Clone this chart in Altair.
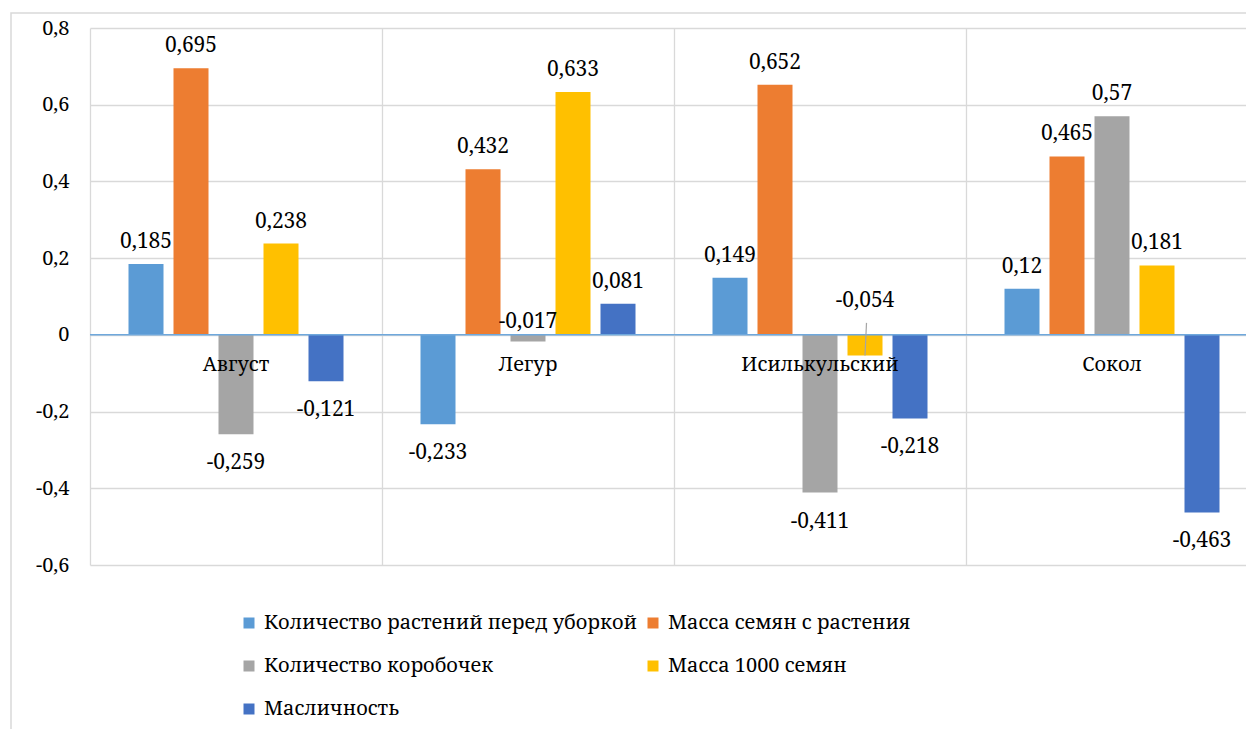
import altair as alt
import pandas as pd

categories = ["Август", "Легур", "Исилькульский", "Сокол"]
series = [
    "Количество растений перед уборкой",
    "Масса семян с растения",
    "Количество коробочек",
    "Масса 1000 семян",
    "Масличность",
]
v_plants = [0.185, -0.233, 0.149, 0.12]
v_seedmass = [0.695, 0.432, 0.652, 0.465]
v_bolls = [-0.259, -0.017, -0.411, 0.57]
v_1000 = [0.238, 0.633, -0.054, 0.181]
v_oil = [-0.121, 0.081, -0.218, -0.463]
colors = ["#5B9BD5", "#ED7D31", "#A5A5A5", "#FFC000", "#4472C4"]
y_ticks = [-0.6, -0.4, -0.2, 0, 0.2, 0.4, 0.6, 0.8]

rows = []
for si, (name, vals) in enumerate(zip(series, [v_plants, v_seedmass, v_bolls, v_1000, v_oil])):
    for ci, (cat, v) in enumerate(zip(categories, vals)):
        rows.append({"cat": cat, "ci": ci, "series": name, "si": si, "value": v})
df = pd.DataFrame(rows)
cat_df = pd.DataFrame({"cat": categories, "ci": list(range(len(categories)))})

# layout (pixels)
W, H = 1156, 537
CAT_PX = 292.0
BAR_PX = 35.0
STEP_PX = 45.0
PAD_PX = 38.5
x_max = W / CAT_PX
FONT = "Noto Serif"
GRID = "#D9D9D9"

xs = alt.Scale(domain=[0, x_max], nice=False, zero=False)
ys = alt.Scale(domain=[-0.6, 0.8], nice=False, zero=False)
xaxis = alt.Axis(values=list(range(len(categories) + 1)), grid=True, labels=False, ticks=False,
                 domain=False, title=None, gridColor=GRID, gridWidth=1.3)
yaxis = alt.Axis(values=y_ticks, grid=True, ticks=False, domain=False, title=None,
                 gridColor=GRID, gridWidth=1.3, labelFont=FONT, labelFontSize=20,
                 labelColor="#000000", labelPadding=21,
                 labelExpr="datum.value == 0 ? '0' : replace(replace(format(datum.value, '.1f'), '.', ','), '\u2212', '-')")

base = alt.Chart(df).transform_calculate(
    x0=f"datum.ci + ({PAD_PX} + {STEP_PX} * datum.si) / {CAT_PX}",
).transform_calculate(
    x1=f"datum.x0 + {BAR_PX} / {CAT_PX}",
    xc=f"datum.x0 + {BAR_PX / 2} / {CAT_PX}",
    zero="0",
    label="replace(toString(datum.value), '.', ',')",
)

border = alt.Chart(pd.DataFrame({"a": [0]})).mark_rect(
    fill="transparent", stroke=GRID, strokeWidth=1.5
).encode(x=alt.value(-79), y=alt.value(-15), x2=alt.value(W + 60), y2=alt.value(H + 250))

bars = base.mark_bar().encode(
    x=alt.X("x0:Q", scale=xs, axis=xaxis),
    x2="x1:Q",
    y=alt.Y("value:Q", scale=ys, axis=yaxis),
    y2="zero:Q",
    color=alt.Color(
        "series:N",
        scale=alt.Scale(domain=series, range=colors),
        legend=alt.Legend(
            title=None, orient="none", legendX=149, legendY=585, columns=2,
            direction="horizontal", symbolType="square", symbolSize=121,
            symbolStrokeWidth=0, labelFont=FONT, labelFontSize=20, labelColor="#000000",
            labelLimit=0, rowPadding=23, columnPadding=6, labelOffset=5,
        ),
    ),
)

zero_rule = alt.Chart(pd.DataFrame({"z": [0]})).mark_rule(color="#6FA8DC", strokeWidth=1.5).encode(
    y=alt.Y("z:Q", scale=ys, axis=yaxis), x=alt.value(0), x2=alt.value(W)
)

txt = dict(font=FONT, fontSize=21, color="#000000", baseline="alphabetic", align="center")
is_low_neg = "(datum.cat == 'Легур' && datum.si == 2) || (datum.cat == 'Исилькульский' && datum.si == 3)"

pos_labels = base.transform_filter("datum.value >= 0").mark_text(dy=-16, **txt).encode(
    x=alt.X("xc:Q", scale=xs, axis=xaxis), y=alt.Y("value:Q", scale=ys, axis=yaxis), text="label:N"
)
neg_labels = base.transform_filter(f"datum.value < 0 && !({is_low_neg})").mark_text(dy=35, **txt).encode(
    x=alt.X("xc:Q", scale=xs, axis=xaxis), y=alt.Y("value:Q", scale=ys, axis=yaxis), text="label:N"
)
lab_legur = base.transform_filter("datum.cat == 'Легур' && datum.si == 2").mark_text(dy=-13.5, **txt).encode(
    x=alt.X("xc:Q", scale=xs, axis=xaxis), y=alt.Y("value:Q", scale=ys, axis=yaxis), text="label:N"
)
lab_isil = base.transform_filter("datum.cat == 'Исилькульский' && datum.si == 3").mark_text(dy=-49, **txt).encode(
    x=alt.X("xc:Q", scale=xs, axis=xaxis), y=alt.Y("value:Q", scale=ys, axis=yaxis), text="label:N"
)
leader = base.transform_filter("datum.cat == 'Исилькульский' && datum.si == 3").mark_rule(
    color="#A5A5A5", strokeWidth=1.2, y2Offset=-12, x2Offset=1.5
).encode(
    x=alt.X("xc:Q", scale=xs, axis=xaxis), x2="xc:Q",
    y=alt.Y("value:Q", scale=ys, axis=yaxis), y2="zero:Q",
)

txt_cat = dict(txt)
txt_cat["fontSize"] = 20
cat_labels = alt.Chart(cat_df).transform_calculate(
    xc="datum.ci + 0.5", zero="0"
).mark_text(dy=36, **txt_cat).encode(
    x=alt.X("xc:Q", scale=xs, axis=xaxis), y=alt.Y("zero:Q", scale=ys, axis=yaxis), text="cat:N"
)

chart = alt.layer(
    border, bars, zero_rule, leader, pos_labels, neg_labels, lab_legur, lab_isil, cat_labels
).properties(
    width=W, height=H,
    autosize=alt.AutoSizeParams(type="none"),
    padding={"left": 90, "top": 28, "right": 0, "bottom": 164},
    background="white",
).configure_view(stroke="transparent")

chart.save("out.html", embed_options={"renderer": "svg", "actions": False})
